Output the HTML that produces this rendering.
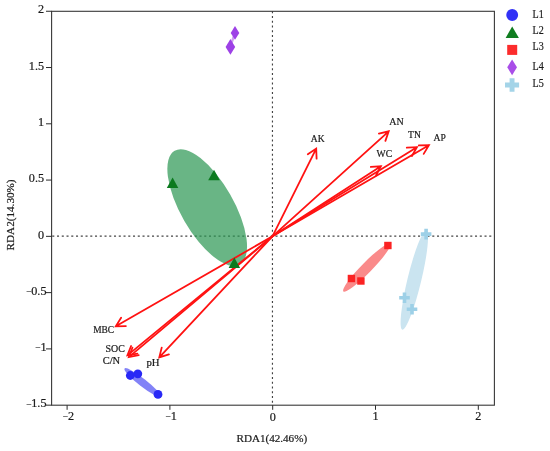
<!DOCTYPE html>
<html><head><meta charset="utf-8"><title>RDA</title>
<style>
html,body{margin:0;padding:0;background:#fff;}
body{width:550px;height:451px;overflow:hidden;}
svg{display:block;}
text{font-family:"Liberation Serif","DejaVu Serif",serif;fill:#1a1a1a;stroke:#1a1a1a;stroke-width:0.2px;}
.tk{font-size:11.5px;}.mn{font-size:9px;}
.lb{font-size:9.8px;}
.ax{font-size:10.7px;}
.lg{font-size:11.6px;}
</style></head><body>
<svg width="550" height="451" viewBox="0 0 550 451">
<rect width="550" height="451" fill="#fff"/>
<g stroke="#444" stroke-width="1.15" stroke-dasharray="2.05,2.70" fill="none"><path d="M51.6,236.1H494.4" stroke-dashoffset="4.09"/><path d="M272.45,11.3V405.2"/></g>
<ellipse cx="207.2" cy="207.6" rx="65.5" ry="26.5" transform="rotate(60.2 207.2 207.6)" fill="rgba(41,149,81,0.7)"/>
<ellipse cx="366.8" cy="267.6" rx="33.4" ry="5.2" transform="rotate(-45.5 366.8 267.6)" fill="#fa8a8a"/>
<ellipse cx="414.3" cy="280.2" rx="50.9" ry="6.9" transform="rotate(-76.4 414.3 280.2)" fill="#cae4f0"/>
<ellipse cx="142.5" cy="382.5" rx="22.8" ry="3.9" transform="rotate(38 142.5 382.5)" fill="#8282f7"/>
<ellipse cx="232.7" cy="39.6" rx="9" ry="1.2" transform="rotate(-72 232.7 39.6)" fill="#cfa0f0"/>
<g stroke="#ff1212" stroke-width="1.8" fill="none" stroke-linecap="round" stroke-linejoin="miter">
<path d="M272.45,236.30L316.2,148.6M316.6,158.7L316.2,148.6L307.8,154.3"/>
<path d="M272.45,236.30L388.7,131.3M385.4,140.9L388.7,131.3L378.9,133.6"/>
<path d="M272.45,236.30L416.9,147.2M411.9,156.0L416.9,147.2L406.8,147.7"/>
<path d="M272.45,236.30L428.9,145.2M423.7,153.9L428.9,145.2L418.8,145.4"/>
<path d="M272.45,236.30L380.9,166.3M376.1,175.2L380.9,166.3L370.8,166.9"/>
<path d="M272.45,236.30L115.8,326.3M121.1,317.7L115.8,326.3L125.9,326.1"/>
<path d="M272.45,236.30L127.4,355.4M131.1,346.0L127.4,355.4L137.4,353.6"/>
<path d="M272.45,236.30L128.8,357.1M132.4,347.7L128.8,357.1L138.7,355.2"/>
<path d="M272.45,236.30L159.3,357.4M161.7,347.6L159.3,357.4L168.9,354.3"/>
</g>
<path d="M166.8,187.9L172.6,177.4L178.3,187.9Z" fill="#0b7a1e"/>
<path d="M208.2,180.2L214.0,169.8L219.8,180.2Z" fill="#0b7a1e"/>
<path d="M228.6,267.9L234.3,257.4L240.1,267.9Z" fill="#0b7a1e"/>
<rect x="384.2" y="241.8" width="7.4" height="7.4" fill="#fb2222"/>
<rect x="347.7" y="274.8" width="7.4" height="7.4" fill="#fb2222"/>
<rect x="357.2" y="277.3" width="7.4" height="7.4" fill="#fb2222"/>
<path d="M235.0,26.1L239.3,32.9L235.0,39.7L230.7,32.9Z" fill="#9d41e6"/>
<path d="M230.4,39.1L235.2,46.9L230.4,54.7L225.6,46.9Z" fill="#9d41e6"/>
<path d="M424.3,228.8h3.6v3.5h3.5v3.6h-3.5v3.5h-3.6v-3.5h-3.5v-3.6h3.5Z" fill="#9dd0e7"/>
<path d="M402.7,292.4h3.6v3.5h3.5v3.6h-3.5v3.5h-3.6v-3.5h-3.5v-3.6h3.5Z" fill="#9dd0e7"/>
<path d="M410.2,303.9h3.6v3.5h3.5v3.6h-3.5v3.5h-3.6v-3.5h-3.5v-3.6h3.5Z" fill="#9dd0e7"/>
<circle cx="130.3" cy="375.5" r="4.4" fill="#2828f6"/>
<circle cx="137.8" cy="373.8" r="4.4" fill="#2828f6"/>
<circle cx="158" cy="394.4" r="4.4" fill="#2828f6"/>
<rect x="51.6" y="11.3" width="442.8" height="393.9" stroke="#383838" stroke-width="1.1" fill="none"/>
<g stroke="#2a2a2a" stroke-width="1"><path d="M46.0,11.25H51.6"/><path d="M46.0,67.53H51.6"/><path d="M46.0,123.80H51.6"/><path d="M46.0,180.07H51.6"/><path d="M46.0,236.35H51.6"/><path d="M46.0,292.62H51.6"/><path d="M46.0,348.90H51.6"/><path d="M46.0,405.17H51.6"/><path d="M67.1,405.2V409.8"/><path d="M169.9,405.2V409.8"/><path d="M272.7,405.2V409.8"/><path d="M375.5,405.2V409.8"/><path d="M478.3,405.2V409.8"/></g>
<text class="tk" transform="translate(44.1 13.4) scale(1.06 1)" text-anchor="end">2</text>
<text class="tk" transform="translate(44.1 69.7) scale(1.06 1)" text-anchor="end">1.5</text>
<text class="tk" transform="translate(44.1 126.0) scale(1.06 1)" text-anchor="end">1</text>
<text class="tk" transform="translate(44.1 182.2) scale(1.06 1)" text-anchor="end">0.5</text>
<text class="tk" transform="translate(44.1 238.5) scale(1.06 1)" text-anchor="end">0</text>
<text class="tk" transform="translate(46.5 294.8) scale(1.06 1)" text-anchor="end"><tspan class="mn" dy="-0.9">−</tspan><tspan dy="0.9">0.5</tspan></text>
<text class="tk" transform="translate(46.5 351.1) scale(1.06 1)" text-anchor="end"><tspan class="mn" dy="-0.9">−</tspan><tspan dy="0.9">1</tspan></text>
<text class="tk" transform="translate(46.5 407.4) scale(1.06 1)" text-anchor="end"><tspan class="mn" dy="-0.9">−</tspan><tspan dy="0.9">1.5</tspan></text>
<text class="tk" transform="translate(68.3 419.8) scale(1.06 1)" text-anchor="middle"><tspan class="mn" dy="-0.9">−</tspan><tspan dy="0.9">2</tspan></text>
<text class="tk" transform="translate(171.1 419.8) scale(1.06 1)" text-anchor="middle"><tspan class="mn" dy="-0.9">−</tspan><tspan dy="0.9">1</tspan></text>
<text class="tk" transform="translate(272.7 420.5) scale(1.06 1)" text-anchor="middle">0</text>
<text class="tk" transform="translate(375.5 419.8) scale(1.06 1)" text-anchor="middle">1</text>
<text class="tk" transform="translate(478.3 419.8) scale(1.06 1)" text-anchor="middle">2</text>
<text class="ax" x="271.8" y="441.8" text-anchor="middle" textLength="70.6" lengthAdjust="spacingAndGlyphs">RDA1(42.46%)</text>
<text class="ax" transform="translate(13.5 214.9) rotate(-90)" text-anchor="middle" textLength="71" lengthAdjust="spacingAndGlyphs">RDA2(14.30%)</text>
<text class="lb" x="310.8" y="141.75" textLength="13.8" lengthAdjust="spacingAndGlyphs">AK</text>
<text class="lb" x="389.3" y="125.45" textLength="14.4" lengthAdjust="spacingAndGlyphs">AN</text>
<text class="lb" x="408.1" y="137.75" textLength="12.8" lengthAdjust="spacingAndGlyphs">TN</text>
<text class="lb" x="433.6" y="140.95" textLength="12.3" lengthAdjust="spacingAndGlyphs">AP</text>
<text class="lb" x="376.5" y="157.45" textLength="15.6" lengthAdjust="spacingAndGlyphs">WC</text>
<text class="lb" x="93.2" y="333.45" textLength="20.9" lengthAdjust="spacingAndGlyphs">MBC</text>
<text class="lb" x="105.5" y="352.45" textLength="19.3" lengthAdjust="spacingAndGlyphs">SOC</text>
<text class="lb" x="102.7" y="363.95" textLength="17.5" lengthAdjust="spacingAndGlyphs">C/N</text>
<text class="lb" x="146.4" y="366.25" textLength="13.1" lengthAdjust="spacingAndGlyphs">pH</text>
<circle cx="512.2" cy="15" r="5.95" fill="#3131f6"/>
<path d="M505.6,37.9L512.2,26.6L518.9,37.9Z" fill="#107d20"/>
<rect x="507.2" y="44.9" width="10" height="10" fill="#fc2c2c"/>
<path d="M512.1,59.4L517.0,67.3L512.1,75.2L507.2,67.3Z" fill="#a94ee8"/>
<path d="M509.6,78.2h4.9v4.3h4.6v4.9h-4.6v4.3h-4.9v-4.3h-4.6v-4.9h4.6Z" fill="#a4d4e8"/>
<text class="lg" x="532.6" y="17.7" textLength="11.2" lengthAdjust="spacingAndGlyphs">L1</text>
<text class="lg" x="532.6" y="33.8" textLength="11.2" lengthAdjust="spacingAndGlyphs">L2</text>
<text class="lg" x="532.6" y="50.2" textLength="11.2" lengthAdjust="spacingAndGlyphs">L3</text>
<text class="lg" x="532.6" y="70.2" textLength="11.2" lengthAdjust="spacingAndGlyphs">L4</text>
<text class="lg" x="532.6" y="87.4" textLength="11.2" lengthAdjust="spacingAndGlyphs">L5</text>
</svg></body></html>
